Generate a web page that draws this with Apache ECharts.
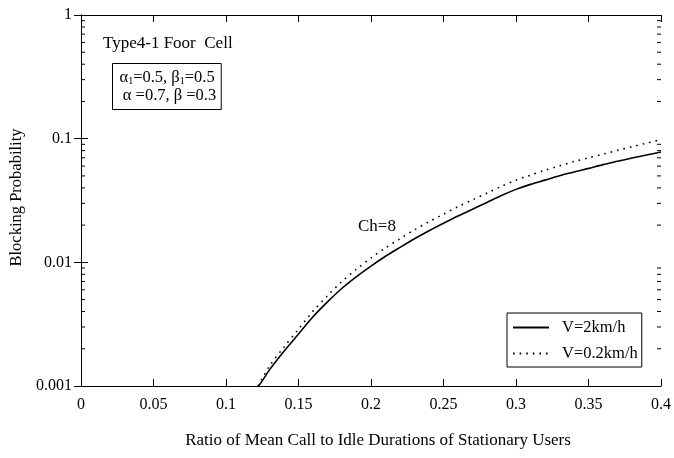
<!DOCTYPE html>
<html>
<head>
<meta charset="utf-8">
<script src="https://cdn.jsdelivr.net/npm/echarts@6/dist/echarts.min.js"></script>
<style>html,body{margin:0;padding:0;background:#fff}#c{width:674px;height:458px}</style>
</head>
<body>
<div id="c"></div>
<script>
// ---- data ----
const xSolid = [0.1225, 0.125, 0.13, 0.14, 0.15, 0.16, 0.17, 0.18, 0.19, 0.20, 0.21, 0.22, 0.23, 0.24, 0.25, 0.26, 0.27, 0.28, 0.29, 0.30, 0.31, 0.32, 0.33, 0.34, 0.35, 0.36, 0.37, 0.38, 0.39, 0.40];
const ySolid = [0.001, 0.0011, 0.00135, 0.00191, 0.00263, 0.00363, 0.00479, 0.00617, 0.00767, 0.00933, 0.0112, 0.0132, 0.0155, 0.0180, 0.0207, 0.0237, 0.0269, 0.0305, 0.0347, 0.0389, 0.0427, 0.0462, 0.0501, 0.0537, 0.0575, 0.0617, 0.0656, 0.0697, 0.0738, 0.078];
const xDotted = [0.122, 0.125, 0.13, 0.14, 0.15, 0.16, 0.17, 0.18, 0.19, 0.20, 0.21, 0.22, 0.23, 0.24, 0.25, 0.26, 0.27, 0.28, 0.29, 0.30, 0.31, 0.32, 0.33, 0.34, 0.35, 0.36, 0.37, 0.38, 0.39, 0.40];
const yDotted = [0.001, 0.00115, 0.00145, 0.00207, 0.00288, 0.00403, 0.00537, 0.00700, 0.00881, 0.01084, 0.0131, 0.0155, 0.0183, 0.0213, 0.0245, 0.0282, 0.0320, 0.0363, 0.0412, 0.0462, 0.0507, 0.0556, 0.0603, 0.0653, 0.0700, 0.0750, 0.0804, 0.0861, 0.0920, 0.0982];
const seriesNames = ['V=2km/h', 'V=0.2km/h'];
const xTickLabels = ['0', '0.05', '0.1', '0.15', '0.2', '0.25', '0.3', '0.35', '0.4'];
const yTickLabels = ['0.001', '0.01', '0.1', '1'];
const yMinorTicks = [0.002, 0.003, 0.004, 0.005, 0.006, 0.007, 0.008, 0.009,
                     0.02, 0.03, 0.04, 0.05, 0.06, 0.07, 0.08, 0.09,
                     0.2, 0.3, 0.4, 0.5, 0.6, 0.7, 0.8, 0.9];
const xTitle = 'Ratio of Mean Call to Idle Durations of Stationary Users';
const yTitle = 'Blocking Probability';

const FONT = '"Liberation Serif", "Times New Roman", serif';
const pair = (xs, ys) => xs.map((x, i) => [x, ys[i]]);

const chart = echarts.init(document.getElementById('c'), null, {renderer: 'canvas'});
const axisLine = {show: true, lineStyle: {color: '#000', width: 1}};
const option = {
  backgroundColor: '#fff',
  animation: false,
  grid: {left: 81, right: 9, top: 15, bottom: 72},
  xAxis: [{
    type: 'value', min: 0, max: 0.4, interval: 0.05,
    axisLine: axisLine,
    axisTick: {show: true, inside: true, length: 7, lineStyle: {color: '#000'}},
    splitLine: {show: false},
    axisLabel: {color: '#000', fontFamily: FONT, fontSize: 16, margin: 11,
      formatter: v => xTickLabels[Math.round(v / 0.05)]},
    name: xTitle, nameLocation: 'middle', nameGap: 46,
    nameTextStyle: {color: '#000', fontFamily: FONT, fontSize: 17, padding: [0, 0, 0, 14]}
  }, {
    type: 'value', min: 0, max: 0.4, interval: 0.05, position: 'top',
    axisLine: axisLine,
    axisTick: {show: true, inside: true, length: 7, lineStyle: {color: '#000'}},
    splitLine: {show: false}, axisLabel: {show: false}
  }],
  yAxis: [{
    type: 'log', logBase: 10, min: 0.001, max: 1,
    axisLine: axisLine,
    axisTick: {show: true, inside: true, length: 7, lineStyle: {color: '#000'}},
    splitLine: {show: false},
    axisLabel: {color: '#000', fontFamily: FONT, fontSize: 16, margin: 9,
      formatter: v => yTickLabels[Math.round(Math.log10(v)) + 3]},
    name: yTitle, nameLocation: 'middle', nameGap: 56,
    nameTextStyle: {color: '#000', fontFamily: FONT, fontSize: 16.5, padding: [0, 0, 0, 6]}
  }, {
    type: 'log', logBase: 10, min: 0.001, max: 1, position: 'right',
    axisLine: axisLine,
    axisTick: {show: true, inside: true, length: 7, lineStyle: {color: '#000'}},
    splitLine: {show: false}, axisLabel: {show: false}
  }],
  legend: {
    data: seriesNames, orient: 'vertical', left: 507, top: 313,
    backgroundColor: '#fff', borderColor: '#000', borderWidth: 1, borderRadius: 0,
    padding: [6, 4, 5, 5], itemGap: 9, itemWidth: 36, itemHeight: 14,
    itemStyle: {opacity: 0},
    textStyle: {color: '#000', fontFamily: FONT, fontSize: 16.5, padding: [0, 0, 0, 8]},
    selectedMode: false
  },
  graphic: [
    {type: 'text', left: 103, top: 35, style: {text: 'Type4-1 Foor  Cell', font: '17px ' + FONT, fill: '#000'}},
    {type: 'text', left: 112, top: 63, style: {
      text: '{a|α}{s|1}{a|=0.5, β}{s|1}{a|=0.5}\n {a|α =0.7, β =0.3}',
      fill: '#000', borderColor: '#000', borderWidth: 1, padding: [5, 5, 5, 7], lineHeight: 18,
      rich: {
        a: {fontFamily: FONT, fontSize: 16.5, lineHeight: 18, fill: '#000', verticalAlign: 'middle'},
        s: {fontFamily: FONT, fontSize: 10, lineHeight: 18, fill: '#000', verticalAlign: 'bottom'}
      }
    }},
    {type: 'text', left: 358, top: 218, style: {text: 'Ch=8', font: '17px ' + FONT, fill: '#000'}}
  ],
  series: [{
    name: seriesNames[0], type: 'line', data: pair(xSolid, ySolid), symbol: 'none', smooth: 0.3,
    lineStyle: {color: '#000', width: 1.6, type: 'solid'}, itemStyle: {color: '#000'}
  }, {
    name: seriesNames[1], type: 'line', data: pair(xDotted, yDotted), symbol: 'none', smooth: 0.3,
    lineStyle: {color: '#000', width: 1.6, type: [1.6, 5]}, itemStyle: {color: '#000'}
  }, {
    name: 'minorTicks', type: 'custom', silent: true,
    data: yMinorTicks.map(v => [0, v]),
    renderItem: function (params, api) {
      const cs = params.coordSys;
      const p = api.coord([0, api.value(1)]);
      const style = {stroke: '#000', lineWidth: 1};
      return {type: 'group', children: [
        {type: 'line', shape: {x1: cs.x, y1: p[1], x2: cs.x + 4, y2: p[1]}, style: style},
        {type: 'line', shape: {x1: cs.x + cs.width - 4, y1: p[1], x2: cs.x + cs.width, y2: p[1]}, style: style}
      ]};
    }
  }]
};
chart.setOption(option);
</script>
</body>
</html>
